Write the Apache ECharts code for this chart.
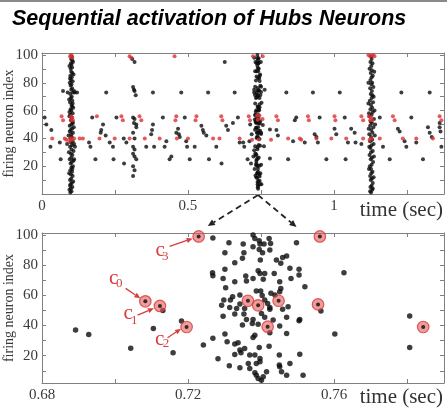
<!DOCTYPE html>
<html><head><meta charset="utf-8">
<script src="https://cdn.jsdelivr.net/npm/echarts@6/dist/echarts.min.js"></script>
<style>html,body{margin:0;padding:0;background:#fff}#c{width:447px;height:408px}</style>
</head><body><div id="c"></div><script>
// ---------- tick labels ----------
const topXLabels = [0, 0.5, 1];
const topXTicks = [0, 0.25, 0.5, 0.75, 1, 1.25];
const zoomXLabels = [0.68, 0.72, 0.76];
const zoomXTicks = [0.68, 0.70, 0.72, 0.74, 0.76, 0.78];
const yLabels = [20, 40, 60, 80, 100];
const yTicks = [10, 20, 30, 40, 50, 60, 70, 80, 90, 100];

// ---------- top panel: scattered spikes outside the zoom window ----------
const topScatterBlack = [
 [0.009,55],[0.015,50],[0.032,46],[0.029,34],[0.061,37],[0.064,25],[0.072,74],
 [0.12,73],[0.161,37],[0.166,34],[0.172,55],[0.183,25],[0.201,44],[0.203,46],[0.209,50],
 [0.218,42],[0.22,73],[0.232,37],[0.243,34],[0.245,25],[0.255,55],[0.280,40],[0.281,22],[0.289,37],
 [0.309,97],[0.317,95],[0.312,77],[0.315,75],[0.317,74],[0.321,71],[0.312,55],[0.317,54],[0.315,51],
 [0.323,50],[0.323,48],[0.312,44],[0.317,40],[0.312,34],[0.317,32],[0.312,29],[0.317,27],[0.323,25],
 [0.312,20],[0.317,17],[0.312,13],
 [0.357,34],[0.374,43],[0.38,50],[0.377,46],[0.38,73],[0.384,34],[0.414,55],[0.42,34],[0.426,38],
 [0.437,25],[0.443,27],[0.46,44],[0.466,47],[0.469,43],[0.472,41],[0.477,73],[0.489,55],[0.494,38],
 [0.497,34],[0.506,25],[0.523,34],[0.546,49],[0.551,46],[0.554,44],[0.563,42],[0.569,73],[0.572,25],
 [0.597,34],[0.615,22],[0.626,95],[0.631,49],[0.637,46],[0.654,51],[0.66,73],[0.671,55],[0.677,37],
 [0.803,46],[0.808,42],[0.837,73],[0.843,25],[0.86,38],[0.866,53],[0.871,55],[0.9,37],[0.928,73],
 [0.934,43],[0.94,41],[0.945,37],[0.951,55],[0.974,25],[1.002,47],[1.008,43],[1.02,73],[1.037,55],
 [1.040,25],[1.048,37],[1.059,47],[1.071,44],[1.074,37],[1.094,36],
 [1.157,55],[1.168,34],[1.191,25],[1.219,47],[1.225,45],[1.231,73],[1.242,38],[1.248,34],[1.265,55],
 [1.282,37],[1.305,25],[1.322,48],[1.328,44],[1.335,41],[1.328,73],[1.362,51],[1.362,48],[1.365,45],[1.368,34]
];
const topScatterRed = [
 [0.035,40],[0.067,56],[0.072,53],[0.078,40],[0.083,39],[0.129,40],[0.14,40],[0.188,56],[0.197,40],
 [0.249,40],[0.272,56],[0.277,53],[0.3,40],[0.3,99],[0.306,98],[0.334,56],[0.340,53],[0.352,40],
 [0.403,40],[0.454,99],[0.46,56],[0.457,53],[0.462,40],[0.5,40],[0.529,56],[0.526,53],[0.586,40],
 [0.608,40],[0.614,56],[0.618,53],[0.677,40],
 [0.803,56],[0.808,53],[0.843,40],[0.883,40],[0.888,39],[0.911,56],[0.914,53],[0.94,40],[0.991,40],
 [1.002,56],[1.005,53],[1.042,40],[1.094,56],[1.1,53],[1.1,40],[1.157,40],[1.202,56],[1.208,53],
 [1.236,40],[1.282,40],[1.339,40],[1.362,56],[1.368,53]
];

// ---------- top panel: burst 1 (t ~ 0.1 s) ----------
const burst1Black = [
 [0.097,1],[0.101,2],[0.099,4],[0.104,5],[0.098,7],[0.102,8],[0.096,10],[0.100,11],[0.105,13],[0.099,14],
 [0.103,16],[0.097,17],[0.101,19],[0.106,20],[0.098,22],[0.102,23],[0.095,25],[0.100,26],[0.104,28],[0.099,29],
 [0.108,31],[0.101,32],[0.096,34],[0.103,35],[0.099,37],[0.105,38],[0.097,40],[0.102,41],[0.100,43],[0.106,44],
 [0.098,46],[0.103,47],[0.095,49],[0.101,50],[0.104,52],[0.099,53],[0.102,55],[0.097,57],[0.105,58],[0.100,60],
 [0.098,61],[0.103,63],[0.101,64],[0.096,66],[0.104,67],[0.099,69],[0.102,70],[0.097,72],[0.106,73],[0.100,75],
 [0.103,76],[0.098,78],[0.101,79],[0.105,81],[0.099,82],[0.102,84],[0.097,85],[0.104,87],[0.100,88],[0.098,90],
 [0.103,91],[0.101,93],[0.099,94],[0.104,96],[0.100,97],[0.102,99],
 [0.094,3],[0.107,9],[0.093,15],[0.108,24],[0.092,30],[0.110,36],[0.091,42],[0.109,48],[0.094,56],[0.107,62],
 [0.093,68],[0.110,74],[0.095,80],[0.108,86],[0.094,92],[0.112,73],[0.088,73],[0.086,36],[0.113,34],[0.110,25],
 [0.096,6],[0.104,18],[0.095,45],[0.106,51],[0.094,59],[0.105,65],[0.096,83],[0.106,95]
];
const burst1Red = [
 [0.096,99],[0.100,100],[0.104,98],[0.099,56],[0.103,55],[0.106,53],[0.100,53],[0.098,40],[0.103,39],[0.110,40],[0.094,38]
];

// ---------- top panel: burst 3 (t ~ 1.13 s) ----------
const burst3Black = [
 [1.127,1],[1.131,3],[1.125,5],[1.129,6],[1.133,8],[1.126,10],[1.130,11],[1.124,13],[1.128,15],[1.132,16],
 [1.127,18],[1.123,20],[1.129,21],[1.134,23],[1.126,25],[1.130,26],[1.122,28],[1.127,30],[1.133,31],[1.125,33],
 [1.129,35],[1.136,36],[1.124,38],[1.131,39],[1.127,41],[1.121,43],[1.132,44],[1.128,46],[1.135,48],[1.124,49],
 [1.130,51],[1.126,52],[1.137,54],[1.122,56],[1.129,57],[1.133,59],[1.125,61],[1.131,62],[1.127,64],[1.134,66],
 [1.123,67],[1.129,69],[1.132,71],[1.126,72],[1.130,74],[1.124,76],[1.135,77],[1.128,79],[1.131,80],[1.125,82],
 [1.129,84],[1.133,85],[1.126,87],[1.130,89],[1.122,90],[1.128,92],[1.132,94],[1.125,95],[1.129,97],[1.127,99],
 [1.119,47],[1.139,60],[1.118,65],[1.140,42],[1.121,34],[1.137,27],[1.120,18],[1.136,12],[1.118,80],[1.138,88],
 [1.133,4],[1.124,2],[1.136,70],[1.120,58],[1.141,50]
];
const burst3Red = [
 [1.118,100],[1.124,99],[1.134,100],[1.139,99],[1.120,56],[1.126,55],[1.131,53],[1.124,53],[1.129,40],[1.122,39]
];

// ---------- zoom window (0.68 - 0.79 s), burst 2 ----------
const zoomBlack = [
 [0.6892,37],[0.6928,34],[0.7043,25],[0.7131,50],[0.7105,38],[0.7182,43],[0.7159,22],[0.7268,98],
 [0.7242,27],[0.7268,31.5],[0.7267,75],[0.7268,73],[0.7282,18],[0.7303,65],
 [0.7378,100],[0.7383,97.7],[0.7395,96.2],[0.7422,97.7],[0.7397,94],[0.7408,94],[0.7426,94.4],[0.7312,94.9],
 [0.7351,94],[0.7497,94.9],[0.7378,92.2],[0.7395,90.4],[0.7404,88.2],[0.7301,88.2],[0.7353,88.2],[0.7424,90],
 [0.747,86],[0.7459,85.1],[0.7442,83.4],[0.7398,83.4],[0.7328,81.6],[0.7349,84.5],[0.7301,77.2],[0.7392,76.3],
 [0.7397,74.5],[0.741,74.5],[0.7436,74.5],[0.7479,77.9],[0.7454,81.2],[0.7504,77.2],[0.7504,73.4],[0.7482,71.2],
 [0.7358,72.8],[0.7378,71.2],[0.7406,70.6],[0.7451,69],[0.736,69.5],[0.7328,69],[0.7296,71.2],[0.752,65.7],
 [0.7454,64.6],[0.7451,62.4],[0.7438,60.2],[0.7427,61.3],[0.7399,62.8],[0.7387,62.8],[0.7403,59.9],[0.7342,60.2],
 [0.7322,59.1],[0.7298,56.9],[0.7316,56.9],[0.741,56.9],[0.7418,54.6],[0.7342,54.2],[0.7314,52],[0.7292,53.5],
 [0.7333,51.3],[0.7355,51.3],[0.7424,52],[0.7424,50.7],[0.7459,50.7],[0.7474,52.4],[0.7296,46.2],[0.7328,47.6],
 [0.7353,47.6],[0.736,44],[0.7378,44],[0.7401,48],[0.741,45.4],[0.747,45.4],[0.7506,44],[0.7504,43.2],
 [0.7349,40.3],[0.7376,41.4],[0.7392,40.9],[0.7451,39.6],[0.7433,43.6],[0.7301,34.3],[0.7307,29.2],[0.7378,32.1],
 [0.7383,33.6],[0.7424,35.2],[0.747,34.7],[0.7337,28.6],[0.7328,27.7],[0.7342,23.7],[0.7355,24.8],[0.7395,25.5],
 [0.7422,26.3],[0.7345,21.9],[0.7328,20.8],[0.7369,20.4],[0.7383,20.4],[0.7397,18.2],[0.745,20.4],[0.7506,21],
 [0.7313,13.3],[0.7342,12],[0.7365,14.9],[0.7369,11.5],[0.7387,14.9],[0.7397,16],[0.7383,8.7],[0.7387,7.1],
 [0.7392,4.9],[0.7406,6],[0.7401,3.8],[0.7415,9.3],[0.7451,12.6],[0.7456,9.3],[0.7479,14.9],[0.747,7.1],
 [0.7515,7.1],[0.745,13.8],
 [0.7627,75],[0.7564,49.6],[0.7602,34.4],[0.7807,46.3],[0.7807,25.5]
];
const zoomRed = [
 [0.7083,56],[0.7123,53],[0.7196,39],[0.7229,99],
 [0.7364,56.4],[0.7392,53.4],[0.7448,56.4],[0.7418,39.2],[0.7556,54],[0.7561,99],[0.7844,39]
];
// labelled hub neurons (first four of zoomRed)
const hubNames = ['0','1','2','3'];

const topBlack = [].concat(topScatterBlack, burst1Black, burst3Black, zoomBlack);
const topRed = [].concat(topScatterRed, burst1Red, burst3Red, zoomRed);

const SERIF = '"Liberation Serif","DejaVu Serif",serif';
const AX = '#808080';
const LBL = '#3a3a3a';

function xAx(grid, pos, min, max, labels, ticks, showLabel, fmt) {
  return {
    type: 'value', gridIndex: grid, position: pos, min: min, max: max,
    axisLine: { show: true, onZero: false, lineStyle: { color: AX, width: 1 } },
    axisTick: { show: true, inside: true, length: 4, customValues: ticks, lineStyle: { color: AX } },
    axisLabel: { show: showLabel, customValues: labels, margin: 5, color: LBL, fontFamily: SERIF, fontSize: 15, formatter: fmt },
    splitLine: { show: false }
  };
}
function yAx(grid, pos, min, max, showLabel) {
  return {
    type: 'value', gridIndex: grid, position: pos, min: min, max: max,
    axisLine: { show: true, onZero: false, lineStyle: { color: AX, width: 1 } },
    axisTick: { show: true, inside: true, length: 4, customValues: yTicks, lineStyle: { color: AX } },
    axisLabel: { show: showLabel, customValues: yLabels, margin: 4, color: LBL, fontFamily: SERIF, fontSize: 15 },
    splitLine: { show: false }
  };
}

const chart = echarts.init(document.getElementById('c'), null, { renderer: 'canvas' });
const option = {
  animation: false,
  backgroundColor: '#fff',
  title: {
    text: 'Sequential activation of Hubs Neurons', left: 7, top: 3,
    textStyle: { fontFamily: '"Liberation Sans",Arial,sans-serif', fontStyle: 'italic', fontWeight: 'bold', fontSize: 21.5, color: '#000' }
  },
  grid: [
    { left: 42, top: 53, width: 402, height: 141, show: false, containLabel: false, outerBoundsMode: 'none' },
    { left: 42, top: 233, width: 402, height: 150, show: false, containLabel: false, outerBoundsMode: 'none' }
  ],
  xAxis: [
    xAx(0, 'bottom', 0, 1.377, topXLabels, topXTicks, true, v => String(v)),
    xAx(0, 'top', 0, 1.377, topXLabels, topXTicks, false),
    xAx(1, 'bottom', 0.68, 0.7901, zoomXLabels, zoomXTicks, true, v => v.toFixed(2)),
    xAx(1, 'top', 0.68, 0.7901, zoomXLabels, zoomXTicks, false)
  ],
  yAxis: [
    yAx(0, 'left', 0, 101.4, true),
    yAx(0, 'right', 0, 101.4, false),
    yAx(1, 'left', 1.9, 101.3, true),
    yAx(1, 'right', 1.9, 101.3, false)
  ],
  series: [
    { type: 'scatter', xAxisIndex: 0, yAxisIndex: 0, data: topBlack, symbolSize: 4, itemStyle: { color: '#0d0d0d' }, silent: true },
    { type: 'scatter', xAxisIndex: 0, yAxisIndex: 0, data: topRed, symbolSize: 4, itemStyle: { color: '#dc2f33' }, silent: true },
    { type: 'scatter', xAxisIndex: 2, yAxisIndex: 2, data: zoomBlack, symbolSize: 5.5, itemStyle: { color: '#0d0d0d' }, silent: true },
    { type: 'scatter', xAxisIndex: 2, yAxisIndex: 2, data: zoomRed, symbolSize: 11.5, itemStyle: { color: 'rgba(226,90,90,0.75)', borderColor: '#d63a3a', borderWidth: 1.2 }, silent: true },
    { type: 'scatter', xAxisIndex: 2, yAxisIndex: 2, data: zoomRed, symbolSize: 4, itemStyle: { color: '#0d0d0d' }, silent: true }
  ]
};
chart.setOption(option);

// ---------- annotations ----------
function arrow(x1, y1, x2, y2, color, lw, dash, headL, headW) {
  const dx = x2 - x1, dy = y2 - y1, len = Math.sqrt(dx * dx + dy * dy);
  const ux = dx / len, uy = dy / len;
  const bx = x2 - ux * headL, by = y2 - uy * headL;
  return [
    { type: 'line', silent: true, shape: { x1: x1, y1: y1, x2: bx, y2: by }, style: { stroke: color, lineWidth: lw, lineDash: dash } },
    { type: 'polygon', silent: true, shape: { points: [[x2, y2], [bx - uy * headW, by + ux * headW], [bx + uy * headW, by - ux * headW]] }, style: { fill: color } }
  ];
}
const RED = '#d83c3c';
const g = [];
g.push({ type: 'rect', silent: true, shape: { x: 0, y: 0, width: 447, height: 2 }, style: { fill: '#8a8a8a' } });
g.push({ type: 'text', silent: true, x: 443, y: 210, style: { text: 'time (sec)', fontFamily: SERIF, fontSize: 21, fill: '#333', textAlign: 'right', textVerticalAlign: 'middle', align: 'right', verticalAlign: 'middle' } });
g.push({ type: 'text', silent: true, x: 443, y: 397, style: { text: 'time (sec)', fontFamily: SERIF, fontSize: 21, fill: '#333', textAlign: 'right', textVerticalAlign: 'middle', align: 'right', verticalAlign: 'middle' } });

// y-axis titles, centred on each panel
[[0, 0], [2, 2]].forEach(ax => {
  const a = chart.convertToPixel({ xAxisIndex: ax[0], yAxisIndex: ax[1] }, [ax[0] === 0 ? 0 : 0.68, ax[0] === 0 ? 50.7 : 51.6]);
  g.push({ type: 'text', silent: true, x: 9, y: a[1], rotation: Math.PI / 2,
    style: { text: 'firing neuron index', fontFamily: SERIF, fontSize: 14, fill: LBL, textAlign: 'center', textVerticalAlign: 'middle', align: 'center', verticalAlign: 'middle' } });
});

// hub labels: offsets of text and arrow relative to the marked point
const hubOffsets = [
  { c: [-31.7, -22.5], s: [-26, -18], t: [-19.7, -13], h: [-5, -3] },
  { c: [-31.8, 7.8], s: [-25.8, 15], t: [-22.3, 9.3], h: [-6, 2.3] },
  { c: [-27, 12.2], s: [-20.5, 16.5], t: [-19, 10.7], h: [-5.5, 1.7] },
  { c: [-38.5, 14.5], s: [-33.5, 20], t: [-29, 10], h: [-6, 2] }
];
hubNames.forEach((nm, i) => {
  const p = chart.convertToPixel({ xAxisIndex: 2, yAxisIndex: 2 }, zoomRed[i]);
  const o = hubOffsets[i];
  g.push({ type: 'text', silent: true, x: p[0] + o.c[0], y: p[1] + o.c[1], style: { text: 'c', fontFamily: SERIF, fontSize: 21, fill: RED, textAlign: 'center', textVerticalAlign: 'middle', align: 'center', verticalAlign: 'middle' } });
  g.push({ type: 'text', silent: true, x: p[0] + o.s[0], y: p[1] + o.s[1], style: { text: nm, fontFamily: SERIF, fontSize: 13, fill: RED, textAlign: 'center', textVerticalAlign: 'middle', align: 'center', verticalAlign: 'middle' } });
  arrow(p[0] + o.t[0], p[1] + o.t[1], p[0] + o.h[0], p[1] + o.h[1], RED, 1.3, null, 6, 2.6).forEach(e => g.push(e));
});

// dashed zoom arrows from burst 2 in the top panel to the lower panel
const src = chart.convertToPixel({ xAxisIndex: 0, yAxisIndex: 0 }, [0.74, 0]);
const dstL = chart.convertToPixel({ xAxisIndex: 2, yAxisIndex: 2 }, [0.7254, 101.3]);
const dstR = chart.convertToPixel({ xAxisIndex: 2, yAxisIndex: 2 }, [0.7497, 101.3]);
arrow(src[0], src[1] + 1, dstL[0], dstL[1] - 7, '#222', 1.8, [6, 4], 7, 3.2).forEach(e => g.push(e));
arrow(src[0], src[1] + 1, dstR[0], dstR[1] - 6, '#222', 1.8, [6, 4], 7, 3.2).forEach(e => g.push(e));

chart.setOption({ graphic: g });
</script></body></html>
